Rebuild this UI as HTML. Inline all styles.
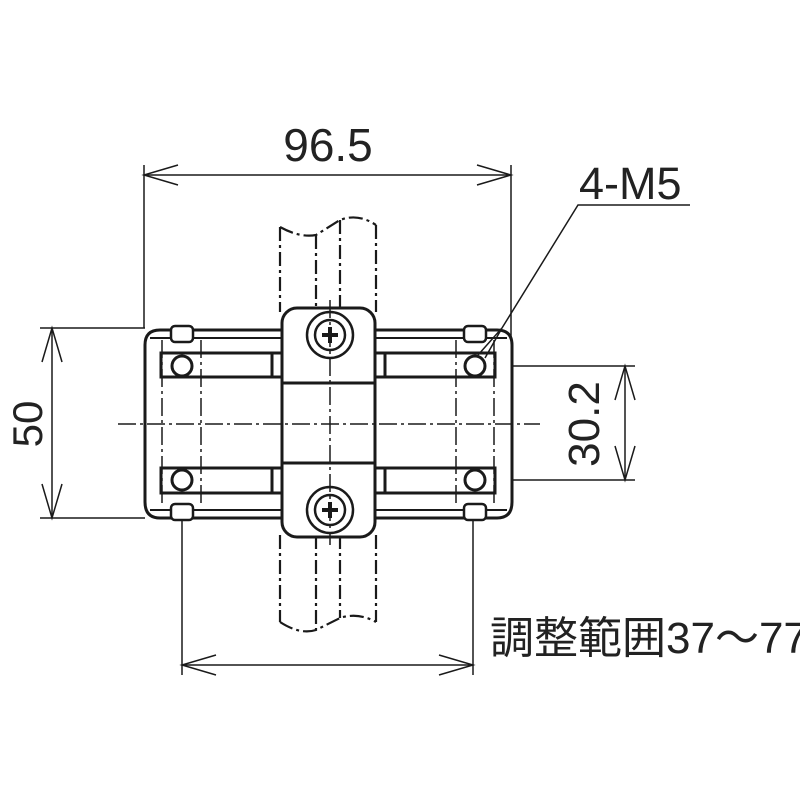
<!DOCTYPE html>
<html><head><meta charset="utf-8"><style>
html,body{margin:0;padding:0;background:#fff}
svg{display:block}
text{font-family:"Liberation Sans","Noto Sans CJK JP",sans-serif;fill:#222}
</style></head><body>
<svg width="800" height="800" viewBox="0 0 800 800" xmlns="http://www.w3.org/2000/svg">
<g fill="none" stroke="#1a1a1a">
<g stroke-width="2.2" stroke-dasharray="14,4,3,4">
<line x1="280" y1="227" x2="280" y2="312"/>
<line x1="316" y1="235" x2="316" y2="312"/>
<line x1="340" y1="220" x2="340" y2="312"/>
<line x1="376" y1="225" x2="376" y2="312"/>
<path d="M280 227 Q300 238 316 235 L340 220 Q358 213 376 225"/>
<line x1="280" y1="535" x2="280" y2="622"/>
<line x1="316" y1="535" x2="316" y2="630"/>
<line x1="340" y1="535" x2="340" y2="618"/>
<line x1="376" y1="535" x2="376" y2="622"/>
<path d="M280 622 Q300 635 316 630 L340 618 Q358 612 376 622"/>
</g>
<path d="M282 330 L160 330 Q145 330 145 345 L145 502 Q145 518 160 518 L282 518" stroke-width="3"/>
<path d="M375 330 L497 330 Q512 330 512 345 L512 502 Q512 518 497 518 L375 518" stroke-width="3"/>
<line x1="150" y1="338" x2="282" y2="338" stroke-width="2"/>
<line x1="375" y1="338" x2="507" y2="338" stroke-width="2"/>
<line x1="150" y1="510" x2="282" y2="510" stroke-width="2"/>
<line x1="375" y1="510" x2="507" y2="510" stroke-width="2"/>
<rect x="161" y="353" width="121" height="24" stroke-width="3"/>
<rect x="375" y="353" width="120" height="24" stroke-width="3"/>
<rect x="161" y="468" width="121" height="25" stroke-width="3"/>
<rect x="375" y="468" width="120" height="25" stroke-width="3"/>
<line x1="272" y1="353" x2="272" y2="377" stroke-width="3"/>
<line x1="385" y1="353" x2="385" y2="377" stroke-width="3"/>
<line x1="272" y1="468" x2="272" y2="493" stroke-width="3"/>
<line x1="385" y1="468" x2="385" y2="493" stroke-width="3"/>
<rect x="171" y="326" width="22" height="16" rx="4" stroke-width="2.5" fill="#fff"/>
<rect x="464" y="326" width="22" height="16" rx="4" stroke-width="2.5" fill="#fff"/>
<rect x="171" y="504" width="22" height="16" rx="4" stroke-width="2.5" fill="#fff"/>
<rect x="464" y="504" width="22" height="16" rx="4" stroke-width="2.5" fill="#fff"/>
<circle cx="182" cy="366" r="10" stroke-width="3"/>
<circle cx="475" cy="366" r="10" stroke-width="3"/>
<circle cx="182" cy="480" r="10" stroke-width="3"/>
<circle cx="475" cy="480" r="10" stroke-width="3"/>
<rect x="282" y="308" width="93" height="229" rx="15" stroke-width="3" fill="#fff"/>
<line x1="282" y1="383" x2="375" y2="383" stroke-width="3"/>
<line x1="282" y1="463" x2="375" y2="463" stroke-width="3"/>
<circle cx="330" cy="335" r="23" stroke-width="2.5"/>
<circle cx="330" cy="335" r="15" stroke-width="2.5"/>
<path d="M322 335h16M330 327v16" stroke-width="4"/>
<circle cx="330" cy="510" r="23" stroke-width="2.5"/>
<circle cx="330" cy="510" r="15" stroke-width="2.5"/>
<path d="M322 510h16M330 502v16" stroke-width="4"/>
<g stroke-width="1.5" stroke-dasharray="18,4,3,4">
<line x1="118" y1="424" x2="540" y2="424"/>
<line x1="330" y1="300" x2="330" y2="545"/>
<line x1="162" y1="340" x2="162" y2="505"/>
<line x1="201" y1="340" x2="201" y2="505"/>
<line x1="456" y1="340" x2="456" y2="505"/>
<line x1="494" y1="340" x2="494" y2="505"/>
</g>
<g stroke-width="1.5">
<line x1="144" y1="165" x2="144" y2="328"/>
<line x1="511" y1="165" x2="511" y2="340"/>
<line x1="144" y1="175" x2="511" y2="175"/>
<path d="M178 165 L144 175 L178 185 M477 165 L511 175 L477 185"/>
<line x1="40" y1="328" x2="145" y2="328"/>
<line x1="40" y1="518" x2="145" y2="518"/>
<line x1="52" y1="328" x2="52" y2="518"/>
<path d="M42 362 L52 328 L62 362 M42 484 L52 518 L62 484"/>
<line x1="512" y1="366" x2="635" y2="366"/>
<line x1="512" y1="480" x2="635" y2="480"/>
<line x1="625" y1="366" x2="625" y2="480"/>
<path d="M615 400 L625 366 L635 400 M615 446 L625 480 L635 446"/>
<line x1="182" y1="520" x2="182" y2="675"/>
<line x1="473" y1="520" x2="473" y2="675"/>
<line x1="182" y1="665" x2="473" y2="665"/>
<path d="M216 655 L182 665 L216 675 M439 655 L473 665 L439 675"/>
<polyline points="690,205 578,205 502,328"/>
<path d="M502 328 L485 358 M502 328 L478 355"/>
</g>
</g>
<text x="328" y="161" font-size="46" text-anchor="middle">96.5</text>
<text x="579" y="199" font-size="45">4-M5</text>
<text transform="translate(42,424) rotate(-90)" font-size="42" text-anchor="middle">50</text>
<text transform="translate(599,424) rotate(-90)" font-size="44" text-anchor="middle">30.2</text>
<text x="490" y="653" font-size="44">調整範囲37～77</text>
</svg>
</body></html>
